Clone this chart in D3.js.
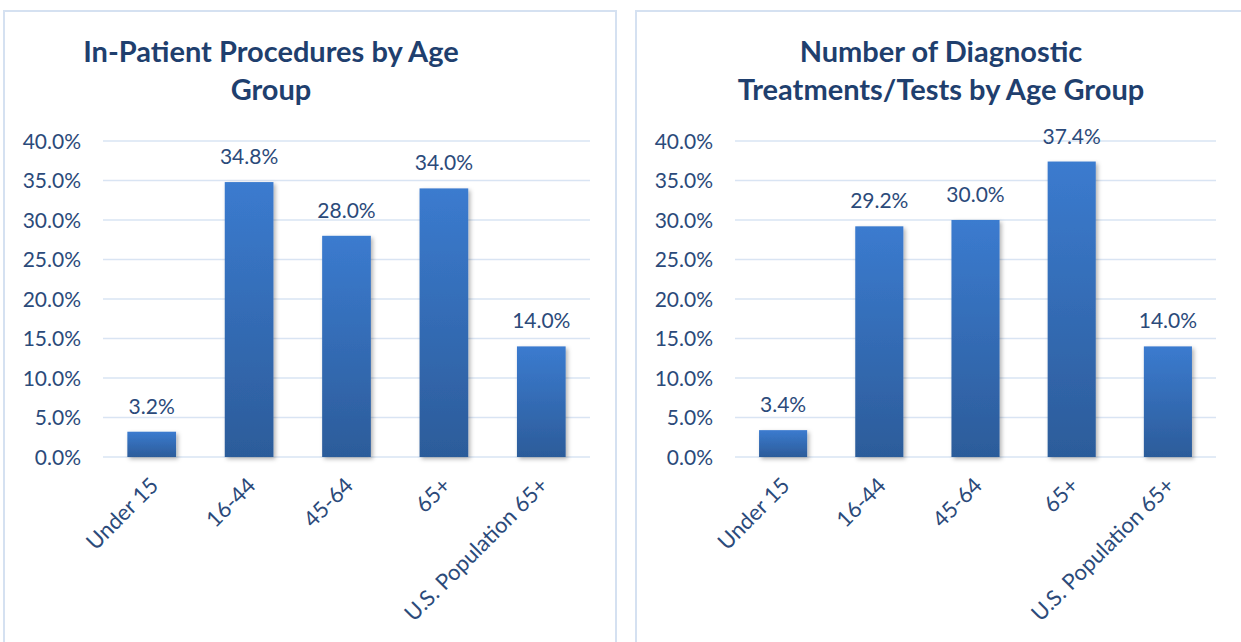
<!DOCTYPE html>
<html>
<head>
<meta charset="utf-8">
<script src="https://cdn.jsdelivr.net/npm/d3@7"></script>
<style>
  html, body { margin: 0; padding: 0; background: #ffffff; }
  svg { display: block; }
</style>
</head>
<body>
<svg id="chart" width="1241" height="642"></svg>
<script>
const categories = ["Under 15", "16-44", "45-64", "65+", "U.S. Population 65+"];
const procedureValues = [3.2, 34.8, 28.0, 34.0, 14.0];
const diagnosticValues = [3.4, 29.2, 30.0, 37.4, 14.0];
const yTicks = [0, 5, 10, 15, 20, 25, 30, 35, 40];
const titles = [
  ["In-Patient Procedures by Age", "Group"],
  ["Number of Diagnostic", "Treatments/Tests by Age Group"]
];

const svg = d3.select("#chart");
const FONT = "Lato, 'Open Sans', sans-serif";
const TEXT = "#2b4a7a";
const TITLE = "#1f3f6e";

const defs = svg.append("defs");
const grad = defs.append("linearGradient").attr("id", "barGrad")
  .attr("x1", 0).attr("y1", 0).attr("x2", 0).attr("y2", 1);
grad.append("stop").attr("offset", "0%").attr("stop-color", "#3b7bcf");
grad.append("stop").attr("offset", "100%").attr("stop-color", "#2c5c9a");
const filt = defs.append("filter").attr("id", "shadow")
  .attr("x", "-20%").attr("y", "-20%").attr("width", "150%").attr("height", "150%");
filt.append("feDropShadow").attr("dx", 2).attr("dy", 2).attr("stdDeviation", 2)
  .attr("flood-color", "#000").attr("flood-opacity", 0.3);

const panels = [
  { box: [4, 11, 612, 640], plot: { x0: 103, x1: 590, y0: 141, y1: 457 }, title: titles[0], titleX: 271, values: procedureValues, yLabelX: 81 },
  { box: [636, 11, 620, 640], plot: { x0: 735, x1: 1216, y0: 141, y1: 457 }, title: titles[1], titleX: 941, values: diagnosticValues, yLabelX: 713 }
];

panels.forEach(p => {
  svg.append("rect")
    .attr("x", p.box[0]).attr("y", p.box[1])
    .attr("width", p.box[2]).attr("height", p.box[3])
    .attr("fill", "#fff").attr("stroke", "#d5e1f1").attr("stroke-width", 2);

  const g = svg.append("g");
  g.selectAll("text.title").data(p.title).join("text")
    .attr("x", p.titleX).attr("y", (d, i) => 62 + i * 38)
    .attr("text-anchor", "middle")
    .attr("font-family", FONT).attr("font-weight", "bold").attr("font-size", 29)
    .attr("fill", TITLE).text(d => d);

  const x = d3.scaleBand().domain(categories).range([p.plot.x0, p.plot.x1]).paddingInner(0.5).paddingOuter(0.25);
  const y = d3.scaleLinear().domain([0, 40]).range([p.plot.y1, p.plot.y0]);

  // gridlines
  g.selectAll("line.grid").data(yTicks).join("line")
    .attr("x1", p.plot.x0).attr("x2", p.plot.x1)
    .attr("y1", d => y(d)).attr("y2", d => y(d))
    .attr("stroke", "#d9e4f3").attr("stroke-width", 1.5);

  // y axis labels
  const yAxis = d3.axisLeft(y).tickValues(yTicks).tickFormat(d => d.toFixed(1) + "%").tickSize(0).tickPadding(0);
  const ya = g.append("g").attr("transform", `translate(${p.yLabelX},0)`).call(yAxis);
  ya.select(".domain").remove();
  ya.selectAll("text").attr("font-family", FONT).attr("font-size", 21).attr("fill", TEXT).attr("dy", "0.35em");

  // bars
  const data = categories.map((c, i) => ({ c, v: p.values[i] }));
  g.selectAll("rect.bar").data(data).join("rect")
    .attr("x", d => x(d.c)).attr("width", x.bandwidth())
    .attr("y", d => y(d.v)).attr("height", d => y(0) - y(d.v))
    .attr("fill", "url(#barGrad)").attr("filter", "url(#shadow)");

  // value labels
  g.selectAll("text.val").data(data).join("text")
    .attr("x", d => x(d.c) + x.bandwidth() / 2).attr("y", d => y(d.v) - 18)
    .attr("text-anchor", "middle")
    .attr("font-family", FONT).attr("font-size", 21).attr("fill", TEXT)
    .text(d => d.v.toFixed(1) + "%");

  // x axis labels
  const xAxis = d3.axisBottom(x).tickSize(0).tickPadding(0);
  const xa = g.append("g").attr("transform", `translate(0,${p.plot.y1})`).call(xAxis);
  xa.select(".domain").remove();
  xa.selectAll("text")
    .attr("font-family", FONT).attr("font-size", 22).attr("fill", TEXT)
    .attr("text-anchor", "end").attr("dy", null).attr("y", 0)
    .attr("transform", "translate(8,30) rotate(-45)");
});
</script>
</body>
</html>
